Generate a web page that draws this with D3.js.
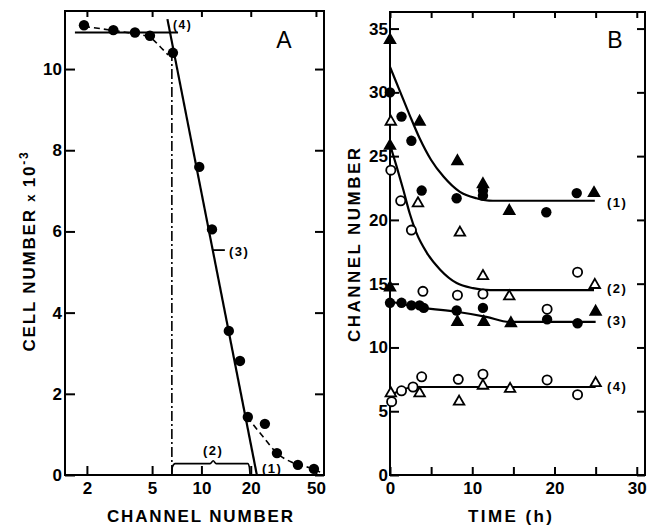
<!DOCTYPE html>
<html>
<head>
<meta charset="utf-8">
<script src="https://cdn.jsdelivr.net/npm/d3@7"></script>
<style>
  body { margin: 0; background: #fff; }
  svg { display: block; font-family: "Liberation Sans", Arial, sans-serif; }
  .tick text { font-size: 17px; font-weight: bold; fill: #000; }
  .tick line { stroke: #000; stroke-width: 2; }
</style>
</head>
<body>
<div id="chart"></div>
<script>
// ---- panel A : cell number vs channel number (log x) ----
const cellChannel = [1.92, 2.9, 3.93, 4.85, 6.7, 9.7, 11.6, 14.7, 17.2, 19.2, 24.4, 28.9, 38.8, 48.6];
const cellCount   = [11.08, 10.96, 10.9, 10.82, 10.4, 7.59, 6.05, 3.55, 2.81, 1.43, 1.26, 0.54, 0.25, 0.15];

const steepX = [6.2, 21.8];           // line (3)
const steepY = [11.23, 0];
const plateauX = [1.69, 7.2];         // line (4)
const plateauY = [10.9, 10.9];
const dashTopX = [1.92, 2.9, 3.9, 4.85, 5.6, 6.25];
const dashTopY = [11.05, 10.95, 10.87, 10.78, 10.55, 10.35];
const dashLowX = [19.0, 23.8, 28.9, 36.2, 48.0, 53];
const dashLowY = [1.43, 0.94, 0.54, 0.30, 0.15, 0.07];
const cutoffX = [6.6, 6.6];           // dash-dot vertical
const cutoffY = [0, 10.3];
const braceX = [6.6, 6.65, 6.9, 11.3, 11.8, 12.3, 19.2, 19.6, 19.8];
const braceY = [0, 0.2, 0.28, 0.28, 0.35, 0.28, 0.28, 0.2, 0];
const crossX = [11.6, 13.9];
const crossY = [5.54, 5.54];

const xTicksA = [2, 5, 10, 20, 50];
const yTicksA = [0, 2, 4, 6, 8, 10];

// ---- panel B : channel number vs time ----
const fTriT = [0, 3.6, 8.2, 11.3, 14.5, 24.8, 0, 8.2, 11.4, 14.7, 25.0, 0];
const fTriY = [34.1, 27.7, 24.6, 22.8, 20.7, 22.1, 14.7, 12.0, 12.0, 11.9, 12.8, 25.8];
const fCirT = [0, 1.4, 2.6, 3.85, 8.1, 11.3, 11.3, 19.0, 22.7, 0, 1.4, 2.6, 3.6, 4.1, 8.1, 11.3, 19.1, 22.8];
const fCirY = [30.0, 28.1, 26.2, 22.3, 21.7, 22.3, 21.9, 20.6, 22.1, 13.5, 13.5, 13.3, 13.3, 13.1, 12.9, 13.1, 12.2, 11.9];
const oTriT = [0.1, 3.4, 8.5, 11.3, 14.5, 24.9, 0.1, 3.6, 8.4, 11.3, 14.6, 25.0];
const oTriY = [27.7, 21.3, 19.0, 15.6, 14.0, 14.9, 6.4, 6.4, 5.75, 7.0, 6.75, 7.2];
const oCirT = [0.1, 1.3, 2.6, 4.0, 8.2, 11.3, 22.8, 19.1, 0.2, 1.4, 2.8, 3.85, 8.3, 11.3, 19.1, 22.8];
const oCirY = [23.9, 21.5, 19.2, 14.4, 14.1, 14.2, 15.9, 13.0, 5.75, 6.6, 6.9, 7.7, 7.5, 7.9, 7.45, 6.3];

const curve1T = [0, 1.2, 2.4, 3.6, 5.0, 6.5, 8.5, 10.5, 12.5, 24.9];
const curve1Y = [32.0, 30.1, 28.2, 26.4, 24.7, 23.4, 22.2, 21.7, 21.5, 21.5];
const curve2T = [0, 0.8, 1.6, 2.4, 3.2, 4.5, 6.1, 8.1, 10.1, 12.2, 24.8];
const curve2Y = [25.9, 24.2, 22.4, 20.5, 19.0, 17.4, 16.1, 15.05, 14.65, 14.5, 14.5];
const curve3T = [0, 4.1, 8.1, 11.7, 14.5, 25.0];
const curve3Y = [13.6, 13.1, 12.8, 12.4, 12.0, 12.0];
const curve4T = [0, 1.5, 3.2, 25.0];
const curve4Y = [6.2, 6.7, 6.9, 6.9];
const curveLabels = ["(1)", "(2)", "(3)", "(4)"];
const curveLabelY = [21.4, 14.6, 12.1, 6.9];

const xTicksB = [0, 5, 10, 15, 20, 25, 30];
const yTicksB = [0, 5, 10, 15, 20, 25, 30, 35];

const W = 652, H = 525;
const svg = d3.select("#chart").append("svg")
    .attr("width", W).attr("height", H);
svg.append("rect").attr("width", W).attr("height", H).attr("fill", "#fff");

const zip = (xs, ys) => xs.map((x, i) => [x, ys[i]]);

// ================= panel A =================
const xA = d3.scaleLog().domain([1.47, 56]).range([65, 324]);
const yA = d3.scaleLinear().domain([0, 11.43]).range([475, 11]);
const lineA = d3.line().x(d => xA(d[0])).y(d => yA(d[1]));

const gA = svg.append("g");

gA.append("g").attr("transform", "translate(0,475)")
    .call(d3.axisBottom(xA).tickValues(xTicksA).tickFormat(d3.format("d"))
        .tickSize(-9).tickPadding(7))
    .call(g => g.select(".domain").remove());
gA.append("g").attr("transform", "translate(0,11)")
    .call(d3.axisTop(xA).tickValues(xTicksA).tickFormat("").tickSize(-6))
    .call(g => g.select(".domain").remove());
gA.append("g").attr("transform", "translate(65,0)")
    .call(d3.axisLeft(yA).tickValues(yTicksA).tickSize(-10).tickPadding(3))
    .call(g => g.select(".domain").remove());
gA.append("g").attr("transform", "translate(324,0)")
    .call(d3.axisRight(yA).tickValues(yTicksA).tickFormat("").tickSize(-9))
    .call(g => g.select(".domain").remove());

gA.append("rect").attr("x", 65).attr("y", 11).attr("width", 259).attr("height", 464)
    .attr("fill", "none").attr("stroke", "#000").attr("stroke-width", 2);

gA.append("path").datum(zip(cutoffX, cutoffY)).attr("d", lineA)
    .attr("fill", "none").attr("stroke", "#000").attr("stroke-width", 1.6)
    .attr("stroke-dasharray", "10,3,2,3");
gA.append("path").datum(zip(dashTopX, dashTopY)).attr("d", lineA.curve(d3.curveMonotoneX))
    .attr("fill", "none").attr("stroke", "#000").attr("stroke-width", 1.6)
    .attr("stroke-dasharray", "6,4");
gA.append("path").datum(zip(dashLowX, dashLowY)).attr("d", lineA.curve(d3.curveMonotoneX))
    .attr("fill", "none").attr("stroke", "#000").attr("stroke-width", 1.6)
    .attr("stroke-dasharray", "6,4");
lineA.curve(d3.curveLinear);
gA.append("path").datum(zip(plateauX, plateauY)).attr("d", lineA)
    .attr("fill", "none").attr("stroke", "#000").attr("stroke-width", 2.2);
gA.append("path").datum(zip(steepX, steepY)).attr("d", lineA)
    .attr("fill", "none").attr("stroke", "#000").attr("stroke-width", 2.2);
gA.append("path").datum(zip(crossX, crossY)).attr("d", lineA)
    .attr("fill", "none").attr("stroke", "#000").attr("stroke-width", 1.8);
gA.append("path").datum(zip(braceX, braceY)).attr("d", lineA.curve(d3.curveMonotoneX))
    .attr("fill", "none").attr("stroke", "#000").attr("stroke-width", 1.6);

gA.selectAll("circle.pt").data(zip(cellChannel, cellCount)).join("circle")
    .attr("class", "pt")
    .attr("cx", d => xA(d[0])).attr("cy", d => yA(d[1])).attr("r", 5.2)
    .attr("fill", "#000");

const lab = (g, x, y, t, size, anchor) => g.append("text")
    .attr("x", x).attr("y", y).attr("font-size", size).attr("font-weight", "bold")
    .attr("text-anchor", anchor || "start").attr("dominant-baseline", "central")
    .attr("letter-spacing", 1.5).text(t);

lab(gA, 173, 25, "(4)", 12);
lab(gA, 229, 251, "(3)", 13);
lab(gA, xA(11.8), 450, "(2)", 13, "middle");
lab(gA, 262, 468, "(1)", 13);

gA.append("text").attr("x", 284).attr("y", 48).attr("font-size", 23)
    .attr("text-anchor", "middle").text("A");

gA.append("text").attr("x", 200).attr("y", 522).attr("font-size", 17)
    .attr("font-weight", "bold").attr("text-anchor", "middle")
    .attr("textLength", 186).attr("lengthAdjust", "spacing")
    .text("CHANNEL NUMBER");

const tA = gA.append("text").attr("transform", "translate(35,251) rotate(-90)")
    .attr("font-size", 17).attr("font-weight", "bold").attr("text-anchor", "middle")
    .attr("letter-spacing", 1.8);
tA.append("tspan").text("CELL NUMBER ");
tA.append("tspan").attr("font-size", 13).text("x ");
tA.append("tspan").text("10");
tA.append("tspan").attr("font-size", 12).attr("dy", -7).text("-3");

// ================= panel B =================
const xB = d3.scaleLinear().domain([0, 31]).range([390, 645]);
const yB = d3.scaleLinear().domain([0, 36.3]).range([475, 12]);
const lineB = d3.line().x(d => xB(d[0])).y(d => yB(d[1])).curve(d3.curveMonotoneX);

const gB = svg.append("g");
gB.append("g").attr("transform", "translate(0,475)")
    .call(d3.axisBottom(xB).tickValues(xTicksB).tickFormat(d => d % 10 === 0 ? d : "")
        .tickSize(-8).tickPadding(7))
    .call(g => g.select(".domain").remove());
gB.append("g").attr("transform", "translate(0,12)")
    .call(d3.axisTop(xB).tickValues(xTicksB).tickFormat("").tickSize(-6))
    .call(g => g.select(".domain").remove());
gB.append("g").attr("transform", "translate(390,0)")
    .call(d3.axisLeft(yB).tickValues(yTicksB).tickSize(-9).tickPadding(2))
    .call(g => g.select(".domain").remove());
gB.append("g").attr("transform", "translate(645,0)")
    .call(d3.axisRight(yB).tickValues(yTicksB).tickFormat("").tickSize(-8))
    .call(g => g.select(".domain").remove());

gB.append("rect").attr("x", 390).attr("y", 12).attr("width", 255).attr("height", 463)
    .attr("fill", "none").attr("stroke", "#000").attr("stroke-width", 2);

[[curve1T, curve1Y], [curve2T, curve2Y], [curve3T, curve3Y], [curve4T, curve4Y]]
    .forEach(([t, y]) => {
        gB.append("path").datum(zip(t, y)).attr("d", lineB)
            .attr("fill", "none").attr("stroke", "#000").attr("stroke-width", 2.2);
    });

const tri = d3.symbol().type(d3.symbolTriangle).size(48);
const addTri = (t, y, filled) => gB.append("g").selectAll("path").data(zip(t, y)).join("path")
    .attr("d", tri)
    .attr("transform", d => `translate(${xB(d[0])},${yB(d[1])})`)
    .attr("fill", filled ? "#000" : "#fff").attr("stroke", "#000").attr("stroke-width", 1.8);
const addCir = (t, y, filled) => gB.append("g").selectAll("circle").data(zip(t, y)).join("circle")
    .attr("cx", d => xB(d[0])).attr("cy", d => yB(d[1]))
    .attr("r", filled ? 5.2 : 4.6)
    .attr("fill", filled ? "#000" : "#fff").attr("stroke", "#000").attr("stroke-width", filled ? 0 : 1.8);

addCir(oCirT, oCirY, false);
addTri(oTriT, oTriY, false);
addCir(fCirT, fCirY, true);
addTri(fTriT, fTriY, true);

curveLabels.forEach((t, i) => lab(gB, 607, yB(curveLabelY[i]), t, 13));

gB.append("text").attr("x", 615).attr("y", 48).attr("font-size", 23)
    .attr("text-anchor", "middle").text("B");

gB.append("text").attr("x", 510).attr("y", 522).attr("font-size", 17)
    .attr("font-weight", "bold").attr("text-anchor", "middle")
    .attr("textLength", 84).attr("lengthAdjust", "spacing")
    .text("TIME (h)");

gB.append("text").attr("transform", "translate(360,245) rotate(-90)")
    .attr("font-size", 17).attr("font-weight", "bold").attr("text-anchor", "middle")
    .attr("textLength", 194).attr("lengthAdjust", "spacing")
    .text("CHANNEL NUMBER");
</script>
</body>
</html>
